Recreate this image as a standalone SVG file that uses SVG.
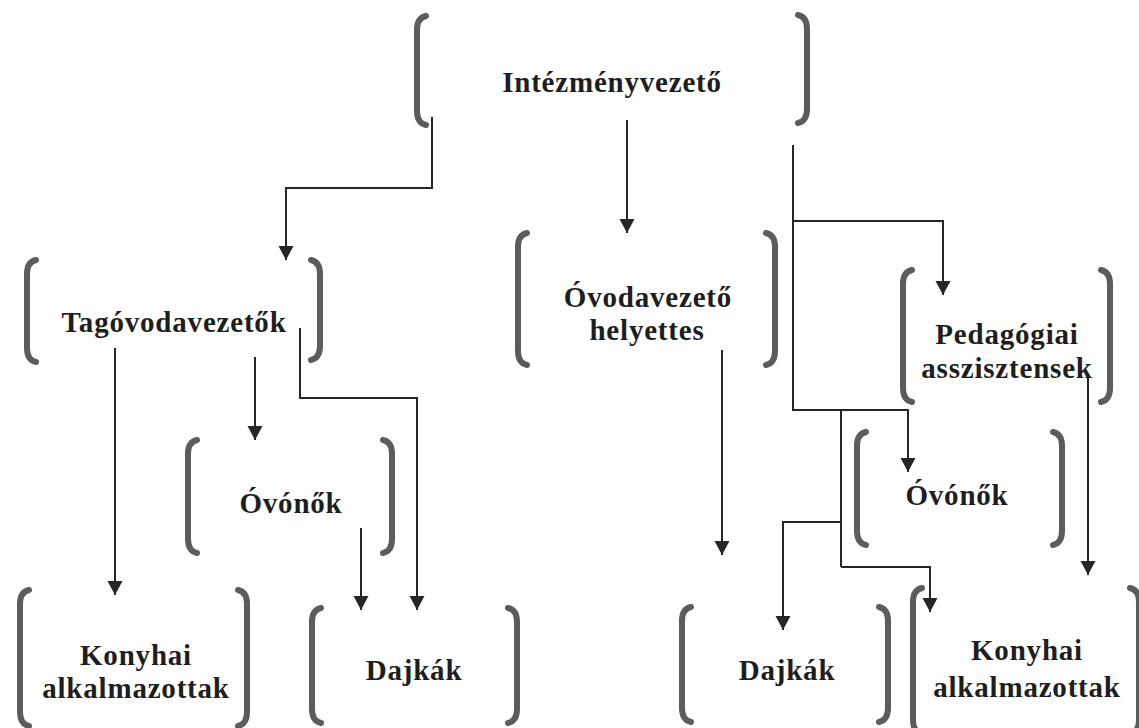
<svg xmlns="http://www.w3.org/2000/svg" width="1139" height="728" viewBox="0 0 1139 728">
<style>
.br{fill:none;stroke:#5c5c5c;stroke-width:6;stroke-linecap:round}
.t{font-family:"Liberation Serif","Times New Roman",serif;font-weight:bold;font-size:29px;letter-spacing:0.8px;fill:#1e1e1e;text-anchor:middle}
.c{fill:none;stroke:#262626;stroke-width:2;marker-end:url(#ah)}
.c0{fill:none;stroke:#262626;stroke-width:2}
</style>
<defs>
<marker id="ah" markerUnits="userSpaceOnUse" markerWidth="16" markerHeight="16" refX="14" refY="7.5" orient="auto" viewBox="0 0 16 16">
<path d="M0,0 L14,7.5 L0,15 z" fill="#262626"/>
</marker>
</defs>
<rect width="1139" height="728" fill="#fff"/>

<g id="n-intezmenyvezeto">
<path class="br" d="M426,16 Q417,18 417,30 V111 Q417,123 426,125"/>
<path class="br" d="M798,15 Q807,17 807,29 V109 Q807,121 798,123"/>
<text class="t" x="612" y="92">Intézményvezető</text>
</g>

<g id="n-tagovodavezetok">
<path class="br" d="M36,260 Q27,262 27,274 V348 Q27,360 36,362"/>
<path class="br" d="M311,260 Q320,262 320,274 V346 Q320,358 311,360"/>
<text class="t" x="174" y="332">Tagóvodavezetők</text>
</g>

<g id="n-ovodavezeto-helyettes">
<path class="br" d="M527,233 Q518,235 518,247 V351 Q518,363 527,365"/>
<path class="br" d="M766,233 Q775,235 775,247 V351 Q775,363 766,365"/>
<text class="t" x="648" y="307">Óvodavezető</text>
<text class="t" x="647" y="340">helyettes</text>
</g>

<g id="n-pedagogiai">
<path class="br" d="M912,270 Q903,272 903,284 V388 Q903,400 912,402"/>
<path class="br" d="M1101,270 Q1110,272 1110,284 V388 Q1110,400 1101,402"/>
<text class="t" x="1007" y="344">Pedagógiai</text>
<text class="t" x="1007" y="378">asszisztensek</text>
</g>

<g id="n-ovonok-left">
<path class="br" d="M197,440 Q188,442 188,454 V539 Q188,551 197,553"/>
<path class="br" d="M383,440 Q392,442 392,454 V539 Q392,551 383,553"/>
<text class="t" x="291" y="513">Óvónők</text>
</g>

<g id="n-ovonok-right">
<path class="br" d="M866,432 Q857,434 857,446 V531 Q857,543 866,545"/>
<path class="br" d="M1053,432 Q1062,434 1062,446 V531 Q1062,543 1053,545"/>
<text class="t" x="957" y="505">Óvónők</text>
</g>

<g id="n-konyhai-left">
<path class="br" d="M29,590 Q20,592 20,604 V712 Q20,724 29,726"/>
<path class="br" d="M238,590 Q247,592 247,604 V712 Q247,724 238,726"/>
<text class="t" x="136" y="665">Konyhai</text>
<text class="t" x="136" y="698">alkalmazottak</text>
</g>

<g id="n-dajkak-left">
<path class="br" d="M321,608 Q312,610 312,622 V709 Q312,721 321,723"/>
<path class="br" d="M508,608 Q517,610 517,622 V709 Q517,721 508,723"/>
<text class="t" x="414" y="680">Dajkák</text>
</g>

<g id="n-dajkak-right">
<path class="br" d="M691,607 Q682,609 682,621 V708 Q682,720 691,722"/>
<path class="br" d="M879,607 Q888,609 888,621 V708 Q888,720 879,722"/>
<text class="t" x="787" y="680">Dajkák</text>
</g>

<g id="n-konyhai-right">
<path class="br" d="M922,588 Q913,590 913,602 V720 Q913,732 922,734"/>
<path class="br" d="M1130,588 Q1139,590 1139,602 V720 Q1139,732 1130,734"/>
<text class="t" x="1027" y="660">Konyhai</text>
<text class="t" x="1027" y="697">alkalmazottak</text>
</g>

<g id="connectors">
<path class="c" d="M432,117 V188 H286 V260"/>
<path class="c" d="M627,120 V233"/>
<path class="c" d="M793,145 V221 H943 V295"/>
<path class="c0" d="M793,221 V410 H841"/>
<path class="c" d="M841,410 H908 V472"/>
<path class="c0" d="M841,410 V567"/>
<path class="c" d="M841,522 H783 V630"/>
<path class="c" d="M841,567 H930 V612"/>
<path class="c" d="M722,350 V555"/>
<path class="c" d="M1088,378 V575"/>
<path class="c" d="M115,348 V595"/>
<path class="c" d="M255,357 V440"/>
<path class="c" d="M300,328 V398 H417 V610"/>
<path class="c" d="M361,528 V610"/>
</g>
</svg>
